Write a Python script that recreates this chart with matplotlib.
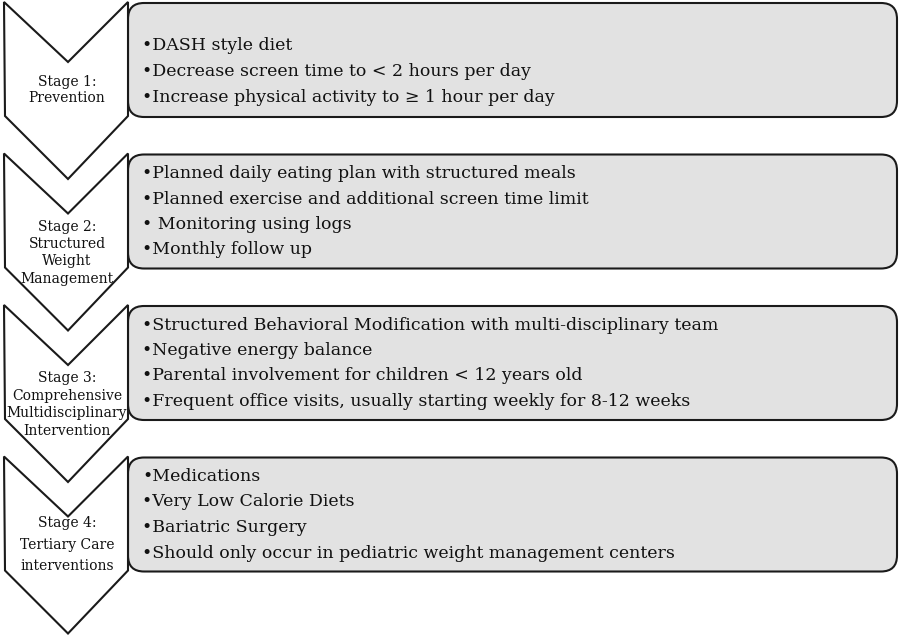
import matplotlib.pyplot as plt
from matplotlib.patches import Polygon, FancyBboxPatch

# Stage labels (left chevrons) and the bullet items (right boxes)
stage_labels = [
    ["Stage 1:", "Prevention"],
    ["Stage 2:", "Structured", "Weight", "Management"],
    ["Stage 3:", "Comprehensive", "Multidisciplinary", "Intervention"],
    ["Stage 4:", "Tertiary Care", "interventions"],
]
stage_items = [
    ["DASH style diet",
     "Decrease screen time to < 2 hours per day",
     "Increase physical activity to \u2265 1 hour per day"],
    ["Planned daily eating plan with structured meals",
     "Planned exercise and additional screen time limit",
     " Monitoring using logs",
     "Monthly follow up"],
    ["Structured Behavioral Modification with multi-disciplinary team",
     "Negative energy balance",
     "Parental involvement for children < 12 years old",
     "Frequent office visits, usually starting weekly for 8-12 weeks"],
    ["Medications",
     "Very Low Calorie Diets",
     "Bariatric Surgery",
     "Should only occur in pediatric weight management centers"],
]

serif = ['DejaVu Serif']

fig = plt.figure(figsize=(9, 6.4), dpi=100)
ax = fig.add_axes([0, 0, 1, 1])
ax.set_xlim(0, 900)
ax.set_ylim(640, 0)
ax.axis('off')

step = 151.5
for i, (label, items) in enumerate(zip(stage_labels, stage_items)):
    y0 = 2 + i * step
    # grey rounded box behind
    box = FancyBboxPatch((128, y0 + 1), 769, 114,
                         boxstyle='round,pad=0,rounding_size=16',
                         facecolor='#e2e2e2', edgecolor='#1a1a1a', linewidth=1.5, zorder=1)
    ax.add_patch(box)
    # chevron
    pts = [(4, y0), (68, y0 + 60), (128, y0), (128, y0 + 114),
           (68, y0 + 177), (5, y0 + 114)]
    ax.add_patch(Polygon(pts, closed=True, facecolor='white',
                         edgecolor='#1a1a1a', linewidth=1.5, zorder=2))
    # stage label
    n = len(label)
    if n == 2:
        ys = [y0 + 80, y0 + 96]
    elif n == 3:
        ys = [y0 + 66, y0 + 89, y0 + 109]
    else:
        ys = [y0 + 73, y0 + 91, y0 + 108, y0 + 126]
    for txt, yy in zip(label, ys):
        ax.text(67, yy, txt, ha='center', va='center', fontsize=10,
                family=serif, color='#111111', zorder=3)
    # bullet items
    m = len(items)
    first = y0 + (44 if m == 3 else 20)
    for j, txt in enumerate(items):
        ax.text(142, first + j * 25.5, '\u2022' + txt, ha='left', va='center',
                fontsize=12.5, family=serif, color='#111111', zorder=3)

fig.savefig('out.png', dpi=100, facecolor='white')
